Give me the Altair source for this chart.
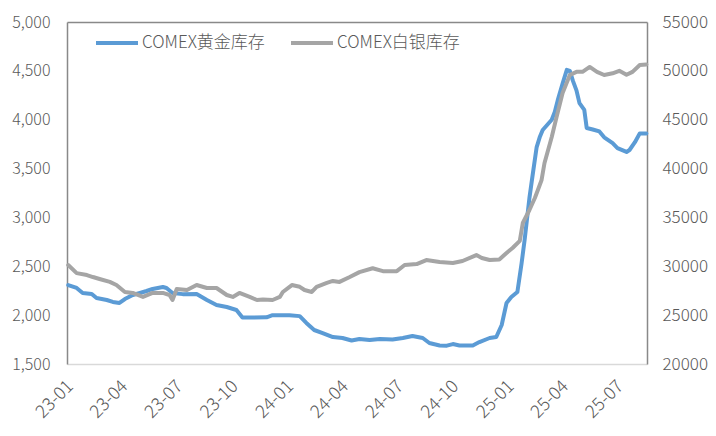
import altair as alt
import pandas as pd

GOLD = "COMEX黄金库存"
SILVER = "COMEX白银库存"

gold_dates = [
    "2023-01-03", "2023-01-17", "2023-01-27", "2023-02-11", "2023-02-19", "2023-03-08",
    "2023-03-18", "2023-03-29", "2023-04-07", "2023-04-20", "2023-05-02", "2023-05-13",
    "2023-05-23", "2023-06-09", "2023-06-15", "2023-06-25", "2023-07-12", "2023-08-04",
    "2023-08-21", "2023-09-06", "2023-09-23", "2023-10-09", "2023-10-19", "2023-11-05",
    "2023-11-28", "2023-12-08", "2024-01-05", "2024-01-22", "2024-02-02", "2024-02-15",
    "2024-02-29", "2024-03-17", "2024-04-02", "2024-04-17", "2024-04-30", "2024-05-17",
    "2024-06-03", "2024-06-24", "2024-07-11", "2024-07-27", "2024-08-13", "2024-08-24",
    "2024-09-10", "2024-09-22", "2024-10-02", "2024-10-13", "2024-11-04", "2024-11-15",
    "2024-12-02", "2024-12-13", "2024-12-22", "2024-12-30", "2025-01-07", "2025-01-17",
    "2025-01-24", "2025-01-29", "2025-02-06", "2025-02-11", "2025-02-18", "2025-02-23",
    "2025-02-28", "2025-03-15", "2025-03-20", "2025-03-25", "2025-04-02", "2025-04-09",
    "2025-04-14", "2025-04-19", "2025-04-25", "2025-04-30", "2025-05-08", "2025-05-12",
    "2025-05-22", "2025-06-02", "2025-06-10", "2025-06-24", "2025-07-02", "2025-07-17",
    "2025-07-22", "2025-07-31", "2025-08-08", "2025-08-19",
]
gold_values = [
    2308, 2278, 2227, 2217, 2175, 2155,
    2135, 2125, 2165, 2206, 2227, 2247,
    2268, 2288, 2278, 2227, 2215, 2217,
    2155, 2104, 2083, 2053, 1975, 1975,
    1978, 2000, 2000, 1990, 1920, 1848,
    1817, 1776, 1766, 1740, 1756, 1745,
    1756, 1750, 1766, 1786, 1766, 1715,
    1690, 1688, 1704, 1690, 1690, 1725,
    1766, 1776, 1899, 2124, 2186, 2237,
    2531, 2769, 3200, 3420, 3720, 3820,
    3895, 4000, 4080, 4200, 4370, 4510,
    4500, 4400, 4300, 4170, 4100, 3915,
    3900, 3880, 3820, 3760, 3710, 3670,
    3690, 3770, 3860, 3860,
]

silver_dates = [
    "2023-01-03", "2023-01-17", "2023-02-03", "2023-02-13", "2023-02-24", "2023-03-13",
    "2023-03-24", "2023-04-07", "2023-04-20", "2023-05-07", "2023-05-23", "2023-06-09",
    "2023-06-20", "2023-06-25", "2023-07-02", "2023-07-19", "2023-08-04", "2023-08-21",
    "2023-09-06", "2023-09-23", "2023-10-03", "2023-10-14", "2023-10-31", "2023-11-12",
    "2023-11-22", "2023-12-08", "2023-12-20", "2023-12-25", "2024-01-09", "2024-01-22",
    "2024-01-30", "2024-02-11", "2024-02-19", "2024-03-07", "2024-03-17", "2024-03-28",
    "2024-04-14", "2024-04-30", "2024-05-22", "2024-06-08", "2024-07-01", "2024-07-14",
    "2024-08-03", "2024-08-19", "2024-09-10", "2024-10-02", "2024-10-18", "2024-11-10",
    "2024-11-19", "2024-12-02", "2024-12-18", "2024-12-30", "2025-01-09", "2025-01-21",
    "2025-01-26", "2025-02-06", "2025-02-15", "2025-02-20", "2025-02-26", "2025-03-03",
    "2025-03-15", "2025-03-23", "2025-04-02", "2025-04-14", "2025-04-25", "2025-05-05",
    "2025-05-17", "2025-05-29", "2025-06-10", "2025-06-24", "2025-07-05", "2025-07-17",
    "2025-07-27", "2025-08-08", "2025-08-19",
]
silver_values = [
    30130, 29300, 29100, 28900, 28700, 28400,
    28080, 27370, 27270, 26860, 27270, 27270,
    27060, 26550, 27680, 27570, 28080, 27780,
    27780, 27060, 26860, 27270, 26860, 26550,
    26600, 26550, 26860, 27370, 28080, 27900,
    27570, 27370, 27900, 28300, 28500, 28400,
    28900, 29400, 29800, 29500, 29500, 30130,
    30230, 30640, 30440, 30340, 30540, 31150,
    30850, 30640, 30700, 31360, 31870, 32600,
    34430, 35760, 36990, 37800, 38800, 40570,
    43230, 45280, 47730, 49580, 49900, 49900,
    50400, 49900, 49580, 49750, 50000, 49600,
    49900, 50600, 50650,
]

left_ticks = [1500, 2000, 2500, 3000, 3500, 4000, 4500, 5000]
right_ticks = [20000, 25000, 30000, 35000, 40000, 45000, 50000, 55000]
x_tick_months = [(2023, 1), (2023, 4), (2023, 7), (2023, 10), (2024, 1), (2024, 4),
                 (2024, 7), (2024, 10), (2025, 1), (2025, 4), (2025, 7)]

df = pd.concat([
    pd.DataFrame({"date": gold_dates, "value": gold_values, "series": GOLD}),
    pd.DataFrame({"date": silver_dates, "value": silver_values, "series": SILVER}),
], ignore_index=True)

FONT = "Noto Sans CJK SC"
LABEL_COLOR = "#595959"
AXIS_GRAY = "#898989"

x_scale = alt.Scale(
    type="utc",
    domain=[alt.DateTime(year=2023, month=1, date=1, utc=True),
            alt.DateTime(year=2025, month=8, date=20, utc=True)],
)
x_values = [alt.DateTime(year=y, month=m, date=1, utc=True) for y, m in x_tick_months]

color = alt.Color(
    "series:N",
    scale=alt.Scale(domain=[GOLD, SILVER], range=["#5B9BD5", "#A5A5A5"]),
    legend=alt.Legend(
        title=None, orient="none", direction="horizontal", legendX=27, legendY=-2,
        symbolType="stroke", symbolSize=1764, symbolStrokeWidth=4,
        labelFont=FONT, labelFontSize=17, labelFontWeight=300, labelColor=LABEL_COLOR,
        labelOffset=2, columnPadding=18,
    ),
)

base = alt.Chart(df)

gold_line = base.transform_filter(alt.datum.series == GOLD).mark_line(
    strokeWidth=4, strokeJoin="round", strokeCap="round"
).encode(
    x=alt.X("date:T", scale=x_scale, title=None,
            axis=alt.Axis(orient="bottom", values=x_values,
                          labelExpr="utcFormat(datum.value, '%y-%m')",
                          labelAngle=-45, labelPadding=13, labelOffset=-3,
                          labelFontSize=18, ticks=False,
                          domainColor="#D9D9D9", domainWidth=1.5, grid=False)),
    y=alt.Y("value:Q", title=None,
            scale=alt.Scale(domain=[1500, 5000], nice=False, zero=False),
            axis=alt.Axis(orient="left", values=left_ticks, format=",.0f", ticks=False,
                          labelFontSize=16, labelPadding=17,
                          domainColor=AXIS_GRAY, domainWidth=1.5, grid=False)),
    color=color,
)

silver_line = base.transform_filter(alt.datum.series == SILVER).mark_line(
    strokeWidth=4, strokeJoin="round", strokeCap="round"
).encode(
    x=alt.X("date:T", scale=x_scale, title=None,
            axis=alt.Axis(orient="top", labels=False, ticks=False,
                          domainColor=AXIS_GRAY, domainWidth=1.5, grid=False)),
    y=alt.Y("value:Q", title=None,
            scale=alt.Scale(domain=[20000, 55000], nice=False, zero=False),
            axis=alt.Axis(orient="right", values=right_ticks, format="d", ticks=False,
                          labelPadding=15, domainColor=AXIS_GRAY, domainWidth=1.5, grid=False)),
    color=color,
)

chart = alt.layer(gold_line, silver_line).resolve_scale(
    y="independent"
).resolve_axis(
    x="independent"
).properties(
    width=580, height=342,
    padding={"left": 59, "top": 14, "right": 61, "bottom": 64},
    autosize=alt.AutoSizeParams(type="none"),
).configure_view(
    stroke=None
).configure_axis(
    labelFont=FONT, labelFontSize=17, labelFontWeight=300, labelColor=LABEL_COLOR,
)

chart.save("out.html", embed_options={"renderer": "svg", "actions": False})
